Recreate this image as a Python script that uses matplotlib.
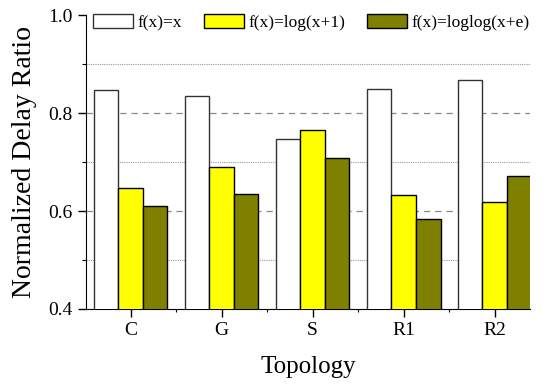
import numpy as np
import matplotlib.pyplot as plt
from matplotlib import font_manager as fm
from matplotlib.ticker import MultipleLocator

# 找一个 Times 风格的字体
installed = set(f.name for f in fm.fontManager.ttflist)
serif_name = 'DejaVu Serif'
for name in ['Liberation Serif', 'Tinos', 'Times New Roman', 'Nimbus Roman', 'TeX Gyre Termes',
             'STIX Two Text', 'Libertinus Serif', 'Crimson Text']:
    if name in installed:
        serif_name = name
        break
plt.rcParams['font.family'] = [serif_name, 'DejaVu Serif']

# 数据
topologies = ['C', 'G', 'S', 'R1', 'R2']
labels = ['f(x)=x', 'f(x)=log(x+1)', 'f(x)=loglog(x+e)']
ratio_linear = [0.847, 0.835, 0.746, 0.850, 0.867]
ratio_log = [0.646, 0.689, 0.765, 0.633, 0.618]
ratio_loglog = [0.611, 0.634, 0.709, 0.584, 0.672]
colors = ['white', '#ffff00', '#808000']
edges = ['#333333', 'black', 'black']
dash_levels = [0.6, 0.8]
dot_levels = [0.5, 0.7, 0.9]

fig = plt.figure(figsize=(5.46, 3.86), dpi=100)
ax = fig.add_axes([0.1575, 0.1995, 0.8135, 0.7615])

X = np.arange(len(topologies))
w = 0.27
for k, vals in enumerate([ratio_linear, ratio_log, ratio_loglog]):
    ax.bar(X + (k - 1) * w, vals, w, color=colors[k], edgecolor=edges[k], linewidth=1.0,
           label=labels[k], zorder=3)

ax.set_ylim(0.4, 1.0)
ax.set_xlim(-0.49, 4.39)
ax.yaxis.set_major_locator(MultipleLocator(0.2))
ax.yaxis.set_minor_locator(MultipleLocator(0.1))
ax.set_xticks(X)
ax.set_xticklabels(topologies)
ax.set_xticks(X[:-1] + 0.5, minor=True)

# 网格线（1.0 处不画）
for yv in dash_levels:
    ax.axhline(yv, linestyle=(0, (5, 4)), color='#888888', linewidth=0.9, zorder=0)
for yv in dot_levels:
    ax.axhline(yv, linestyle=(0, (1, 1)), color='#999999', linewidth=0.8, zorder=0)

ax.spines['top'].set_visible(False)
ax.spines['right'].set_visible(False)
ax.tick_params(axis='both', which='major', labelsize=14, direction='out', length=6, width=1)
ax.tick_params(axis='both', which='minor', direction='out', length=3, width=0.8)
ax.tick_params(axis='x', which='minor', length=2)

ax.set_xlabel('Topology', fontsize=18, labelpad=12)
ax.set_ylabel('Normalized Delay Ratio', fontsize=20, labelpad=8)

ax.legend(loc='upper left', bbox_to_anchor=(0.016, 1.002), ncol=3, frameon=False,
          fontsize=12.5, handlelength=2.27, handleheight=0.78, handletextpad=0.26,
          columnspacing=1.3, borderaxespad=0.0, borderpad=0.0)

fig.savefig('out.png', dpi=100)
